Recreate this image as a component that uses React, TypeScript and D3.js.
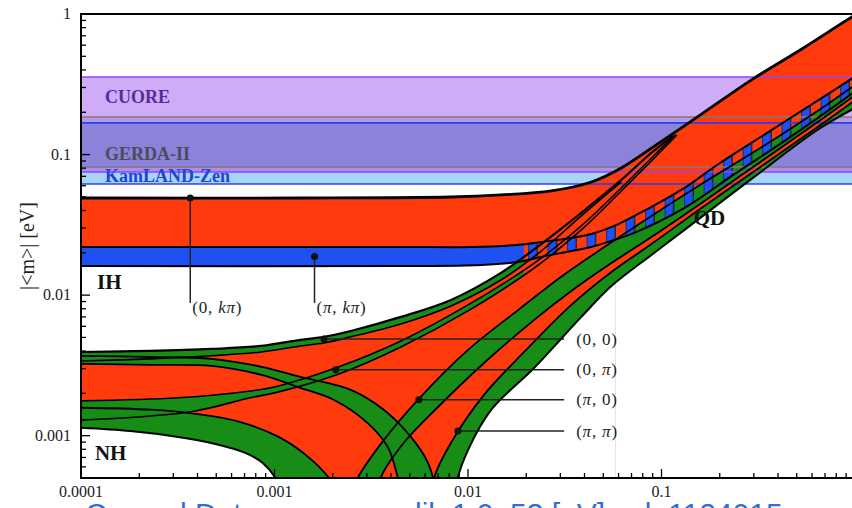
import * as d3 from 'd3';

type Pt = [number, number];

// experimental sensitivities on |<m>| (eV)
const expNames = ['CUORE', 'GERDA-II', 'KamLAND-Zen'];
const expLow = [0.0752, 0.0816, 0.0618];
const expHigh = [0.356, 0.185, 0.168];
const expLabelAt = [0.257, 0.101, 0.0705];

// inverted hierarchy: upper edge, red/blue boundary, lower edge of (pi, k pi)
const ihTop: Pt[] = [[1e-4, 0.0491], [1.36e-3, 0.0491], [8.17e-3, 0.0499], [0.0148, 0.0516], [0.0269, 0.0551], [0.0434, 0.0638], [0.062, 0.0803], [0.0887, 0.111], [0.161, 0.194], [0.292, 0.34], [0.531, 0.564], [0.964, 0.952], [1.09, 1.05]];
const ihMid: Pt[] = [[1e-4, 0.022], [4.5e-3, 0.022], [0.0104, 0.022], [0.0182, 0.0228], [0.0239, 0.0239], [0.0342, 0.0255], [0.0434, 0.0272], [0.057, 0.0311], [0.0724, 0.0366], [0.0887, 0.0424], [0.1315, 0.0579], [0.197, 0.0857], [0.358, 0.145], [0.65, 0.245], [1.09, 0.387]];
const ihBot: Pt[] = [[1e-4, 0.0161], [4.5e-3, 0.0161], [0.0117, 0.0164], [0.0182, 0.0172], [0.0239, 0.0187], [0.0342, 0.0206], [0.0434, 0.022], [0.057, 0.0247], [0.0724, 0.0277], [0.1315, 0.0417], [0.239, 0.0728], [0.433, 0.125], [0.787, 0.222], [1.09, 0.308]];

// normal hierarchy, edges of the CP conserving bands
const nhTop: Pt[] = [[1e-4, 0.00394], [2.28e-4, 0.00401], [4.72e-4, 0.00414], [8.57e-4, 0.00435], [1.36e-3, 0.00481], [1.8e-3, 0.00505], [2.48e-3, 0.00556], [4.5e-3, 0.007], [8.17e-3, 0.00925], [0.0148, 0.0144], [0.0239, 0.0231], [0.0385, 0.0385], [0.062, 0.066], [0.0887, 0.103], [0.115, 0.136]];
const nh00Low: Pt[] = [[1e-4, 0.0034], [2.28e-4, 0.00352], [4.72e-4, 0.0037], [8.57e-4, 0.00394], [1.36e-3, 0.00435], [1.8e-3, 0.00457], [2.48e-3, 0.00505], [4.5e-3, 0.00624], [8.17e-3, 0.00838], [0.0148, 0.0128], [0.0239, 0.0206], [0.0385, 0.0366], [0.062, 0.064]];
const nh0piTop: Pt[] = [[1e-4, 0.00177], [3.18e-4, 0.00186], [7.51e-4, 0.00208], [1.05e-3, 0.00226], [2.15e-3, 0.00309], [4.5e-3, 0.00472], [0.01, 0.00852], [0.022, 0.0169], [0.0385, 0.0311], [0.062, 0.0579], [0.0887, 0.0946], [0.118, 0.138]];
const nh0piLow: Pt[] = [[1e-4, 0.00129], [2.28e-4, 0.00138], [3.9e-4, 0.0015], [7.51e-4, 0.00186], [1.05e-3, 0.00205], [2.15e-3, 0.00275], [4.5e-3, 0.00428], [0.01, 0.00772], [0.022, 0.0156], [0.0385, 0.0291], [0.062, 0.0551], [0.0887, 0.0901], [0.12, 0.138]];
const nhpipiTop: Pt[] = [[1e-4, 0.0037], [2.28e-4, 0.00363], [4.72e-4, 0.00352], [8.57e-4, 0.00309], [1.36e-3, 0.00262], [2.48e-3, 0.00212], [3.67e-3, 0.00153], [5.07e-3, 0.00098], [6.21e-3, 0.000641], [6.83e-3, 0.000412]];
const nhpipiLow: Pt[] = [[1e-4, 0.00324], [2.28e-4, 0.00319], [4.72e-4, 0.00314], [8.57e-4, 0.00271], [1.36e-3, 0.00219], [2.02e-3, 0.0018], [3.03e-3, 0.00123], [3.85e-3, 0.00083], [4.34e-3, 0.000501], [4.5e-3, 0.000412]];
const nhpi0Top: Pt[] = [[1e-4, 0.00158], [2.28e-4, 0.00153], [3.9e-4, 0.00143], [6.67e-4, 0.00125], [1.05e-3, 0.00098], [1.45e-3, 0.00073], [1.91e-3, 0.000501], [2.07e-3, 0.000412]];
const nhpi0Low: Pt[] = [[1e-4, 0.00114], [1.8e-4, 0.00108], [3.18e-4, 0.00098], [4.95e-4, 0.000874], [7.07e-4, 0.000755], [8.67e-4, 0.000641], [1.01e-3, 0.000501], [1.07e-3, 0.000412]];
const nhpi0RiseL: Pt[] = [[2.54e-3, 0.000412], [2.69e-3, 0.000501], [3.67e-3, 0.00093], [5.51e-3, 0.0018], [0.01, 0.00408], [0.0182, 0.00785], [0.0303, 0.0135], [0.0489, 0.0213], [0.0887, 0.0366], [0.161, 0.0618], [0.33, 0.113], [0.675, 0.2145], [1.09, 0.34]];
const nhpi0RiseR: Pt[] = [[3.46e-3, 0.000412], [3.54e-3, 0.000501], [4.66e-3, 0.00089], [7e-3, 0.0016], [0.0121, 0.00329], [0.022, 0.00667], [0.0342, 0.0107], [0.0551, 0.0169], [0.0887, 0.0259], [0.161, 0.0453], [0.33, 0.0901], [0.675, 0.179], [1.09, 0.288]];
const nhpipiRiseL: Pt[] = [[6.51e-3, 0.000412], [6.67e-3, 0.000501], [8.17e-3, 0.00089], [0.0121, 0.00195], [0.0195, 0.00394], [0.0342, 0.00852], [0.0551, 0.0146], [0.0887, 0.0231], [0.161, 0.0417], [0.33, 0.083], [0.675, 0.165], [1.09, 0.265]];
const nhpipiRiseR: Pt[] = [[8.77e-3, 0.000412], [8.87e-3, 0.000501], [0.01, 0.00079], [0.0132, 0.00153], [0.022, 0.00304], [0.0385, 0.007], [0.0551, 0.0116], [0.0887, 0.0193], [0.1315, 0.0291], [0.292, 0.0671], [0.65, 0.152], [1.09, 0.229]];

// where the (pi, k pi) band turns into the hatched overlap
const hatchStart = 0.0195;

// marked points and their labels
const ihMarkLabels = ['(0, kπ)', '(π, kπ)'];
const ihMarkM = [3.67e-4, 1.61e-3];
const ihMarkMbb = [0.0491, 0.0188];
const ihLeaderTo = 0.0088;
const nhMarkLabels = ['(0, 0)', '(0, π)', '(π, 0)', '(π, π)'];
const nhMarkM = [1.8e-3, 2.07e-3, 5.57e-3, 8.87e-3];
const nhMarkMbb = [0.00488, 0.00294, 0.0018, 0.00108];
const nhLeaderTo = 0.0314;

// region names
const regionNames = ['IH', 'NH', 'QD'];
const regionM = [1.21e-4, 1.18e-4, 0.1466];
const regionMbb = [0.0124, 0.000762, 0.0354];

const xMajor = [1e-4, 1e-3, 1e-2, 1e-1];
const xTickLabels = ['0.0001', '0.001', '0.01', '0.1'];
const yMajor = [1e-3, 1e-2, 1e-1, 1];
const yTickLabels = ['0.001', '0.01', '0.1', '1'];

const RED = '#ff3a0c';
const GREEN = '#178c17';
const BLUE = '#1e50f2';
const SERIF = "'Liberation Serif', 'Times New Roman', serif";

const W = 852, H = 508;
const x = d3.scaleLog().domain([1e-4, 1]).range([81, 855]);
const y = d3.scaleLog().domain([5e-4, 1]).range([478, 14]);

const line = d3.line<Pt>().x(d => x(d[0])).y(d => y(d[1])).curve(d3.curveCatmullRom.alpha(0.5));
const seg = (pts: Pt[]) => line(pts) as string;
const join = (...parts: Pt[][]) => parts.map((p, i) => i === 0 ? seg(p) : seg(p).replace(/^M/, 'L')).join('') + 'Z';
const band = (upper: Pt[], lower: Pt[]) => join(upper, [...lower].reverse());

const segColor: Record<string, string> = { C: '#cfacf7', CG: '#b39ae9', CGK: '#8b82da', CK: '#a88ef0', K: '#a7d5f7' };
const borderColor = ['#9146ee', '#8c7474', '#2b3ff2'];
const labelColor = ['#5a2a9c', '#4b4b5c', '#1f44d8'];

const italic = (s: string) => s.split(/([kπ]+)/).filter(Boolean).map((part, i) =>
  /[kπ]/.test(part) ? <tspan key={i} fontStyle="italic">{part}</tspan> : <tspan key={i}>{part}</tspan>);

const App = () => {
  const edges = Array.from(new Set([...expLow, ...expHigh])).sort((a, b) => a - b);
  const segs = d3.pairs(edges).map(([lo, hi]) => {
    const mid = Math.sqrt(lo * hi);
    const key = expNames.filter((_, i) => expLow[i] <= mid && mid <= expHigh[i]).map(n => n[0]).join('');
    return { lo, hi, key };
  }).filter(s => s.key);

  const lastNh = nhTop[nhTop.length - 1][0];
  const nhUpper = nhTop.concat(ihTop.filter(p => p[0] > lastNh));
  const nhRed = join(nhUpper, [...nhpipiRiseR].reverse(), [...nhpi0Low].reverse());
  const ihRed = band(ihTop, ihBot);

  const x0 = x.range()[0], x1 = x.range()[1];
  const yT = y.range()[1], yB = y.range()[0];
  const xh = x(hatchStart);

  const strokes: { pts: Pt[]; w: number }[] = [
    { pts: nh00Low, w: 1.6 }, { pts: nh0piTop, w: 1.6 }, { pts: nh0piLow, w: 1.6 },
    { pts: nhpipiTop, w: 1.8 }, { pts: nhpipiLow, w: 1.8 }, { pts: nhpi0Top, w: 1.8 }, { pts: nhpi0Low, w: 2 },
    { pts: nhpi0RiseL, w: 1.8 }, { pts: nhpi0RiseR, w: 1.8 }, { pts: nhpipiRiseL, w: 1.8 }, { pts: nhpipiRiseR, w: 2 },
    { pts: ihMid, w: 2 }, { pts: ihBot, w: 2 }, { pts: nhTop, w: 2.2 }, { pts: ihTop, w: 2.8 },
  ];

  const minorX = x.ticks().filter(t => !xMajor.includes(t) && t < 1);
  const minorY = y.ticks().filter(t => !yMajor.includes(t));

  return (
    <svg width={W} height={H} style={{ position: 'absolute', left: 0, top: 0, background: '#fff' }}>
      <defs>
        <clipPath id="plot"><rect x={x0} y={yT} width={x1 - x0} height={yB - yT} /></clipPath>
        <clipPath id="solid"><rect x={x0} y={yT} width={xh - x0} height={yB - yT} /></clipPath>
        <clipPath id="striped"><rect x={xh} y={yT} width={x1 - xh} height={yB - yT} /></clipPath>
        <pattern id="hatch" patternUnits="userSpaceOnUse" x={xh + 4} y={0} width={19.5} height={600}>
          <rect x={0} y={-5} width={9} height={610} fill={BLUE} stroke="#000" strokeWidth={0.9} />
        </pattern>
      </defs>

      <g clipPath="url(#plot)">
        {segs.map(s => (
          <rect key={s.key} x={x0} y={y(s.hi)} width={x1 - x0} height={y(s.lo) - y(s.hi)} fill={segColor[s.key]} />
        ))}
        <line x1={x(0.0578)} x2={x(0.0578)} y1={y(0.0128)} y2={yB} stroke="#e4e4e4" strokeWidth={1} />

        <path d={ihRed} fill={RED} />
        <path d={nhRed} fill={RED} />

        <g fill={GREEN}>
          <path d={band(nhpipiTop, nhpipiLow)} />
          <path d={band(nhpi0Top, nhpi0Low)} />
          <path d={band(nhpi0RiseL, nhpi0RiseR)} />
          <path d={band(nhpipiRiseL, nhpipiRiseR)} />
          <g clipPath="url(#solid)">
            <path d={band(nhTop, nh00Low)} />
            <path d={band(nh0piTop, nh0piLow)} />
          </g>
        </g>

        <path d={band(ihMid, ihBot)} fill={BLUE} clipPath="url(#solid)" />
        <path d={band(ihMid, ihBot)} fill="url(#hatch)" clipPath="url(#striped)" />

        {expNames.map((n, i) => (
          <g key={n} stroke={borderColor[i]} strokeWidth={1.6}>
            <line x1={x0} x2={x1} y1={y(expHigh[i])} y2={y(expHigh[i])} />
            <line x1={x0} x2={x1} y1={y(expLow[i])} y2={y(expLow[i])} />
          </g>
        ))}

        <g fill="none" stroke="#000" strokeLinejoin="round">
          {strokes.map((s, i) => <path key={i} d={seg(s.pts)} strokeWidth={s.w} />)}
        </g>

        {ihMarkLabels.map((l, i) => (
          <g key={l}>
            <line x1={x(ihMarkM[i])} x2={x(ihMarkM[i])} y1={y(ihMarkMbb[i])} y2={y(ihLeaderTo)} stroke="#222" strokeWidth={1.5} />
            <circle cx={x(ihMarkM[i])} cy={y(ihMarkMbb[i])} r={3.5} fill="#111" />
          </g>
        ))}
        {nhMarkLabels.map((l, i) => (
          <g key={l}>
            <line x1={x(nhMarkM[i])} x2={x(nhLeaderTo)} y1={y(nhMarkMbb[i])} y2={y(nhMarkMbb[i])} stroke="#222" strokeWidth={1.5} />
            <circle cx={x(nhMarkM[i])} cy={y(nhMarkMbb[i])} r={3.5} fill="#111" />
          </g>
        ))}
      </g>

      <g fontFamily={SERIF} fontSize={17} fill="#222" letterSpacing={0.8}>
        {ihMarkLabels.map((l, i) => (
          <text key={l} x={x(ihMarkM[i]) + 2} y={y(ihLeaderTo) + 10}>{italic(l)}</text>
        ))}
        {nhMarkLabels.map((l, i) => (
          <text key={l} x={x(nhLeaderTo) + 12} y={y(nhMarkMbb[i])} dy="0.33em">{italic(l)}</text>
        ))}
      </g>

      <g fontFamily={SERIF} fontWeight="bold" fontSize={18}>
        {expNames.map((n, i) => (
          <text key={n} x={105} y={y(expLabelAt[i])} dy="0.35em" fill={labelColor[i]}>{n}</text>
        ))}
      </g>
      <g fontFamily={SERIF} fontWeight="bold" fontSize={21} fill="#111">
        {regionNames.map((n, i) => (
          <text key={n} x={x(regionM[i])} y={y(regionMbb[i])} dy="0.35em">{n}</text>
        ))}
      </g>

      <g stroke="#000" strokeWidth={1.3}>
        {xMajor.map(t => <line key={t} x1={x(t)} x2={x(t)} y1={yB} y2={yB - 9} />)}
        {minorX.map(t => <line key={t} x1={x(t)} x2={x(t)} y1={yB} y2={yB - 5} />)}
        {yMajor.map(t => <line key={t} x1={x0} x2={x0 + 9} y1={y(t)} y2={y(t)} />)}
        {minorY.map(t => <line key={t} x1={x0} x2={x0 + 5} y1={y(t)} y2={y(t)} />)}
      </g>
      <path d={`M${x1 + 2},${yT}H${x0}V${yB}H${x1 + 2}`} fill="none" stroke="#000" strokeWidth={2} />

      <g fontFamily={SERIF} fontSize={16} fill="#222">
        {xMajor.map((t, i) => <text key={t} x={x(t)} y={yB + 19} textAnchor="middle">{xTickLabels[i]}</text>)}
        {yMajor.map((t, i) => <text key={t} x={71} y={y(t)} dy="0.33em" textAnchor="end">{yTickLabels[i]}</text>)}
      </g>
      <text transform="translate(27,246) rotate(-90)" textAnchor="middle" dy="0.33em" fontFamily={SERIF} fontSize={20} fill="#222">|&lt;m&gt;| [eV]</text>

      <g fontFamily="'Liberation Sans', Arial, sans-serif" fontSize={30} fill="#2f6fd6">
        <text x={85} y={524}>Cosmol Data</text>
        <text x={415} y={524}>lik 1.0–53 [eV]</text>
        <text x={628} y={524}>ek 1124015</text>
      </g>
    </svg>
  );
};

export default App;
